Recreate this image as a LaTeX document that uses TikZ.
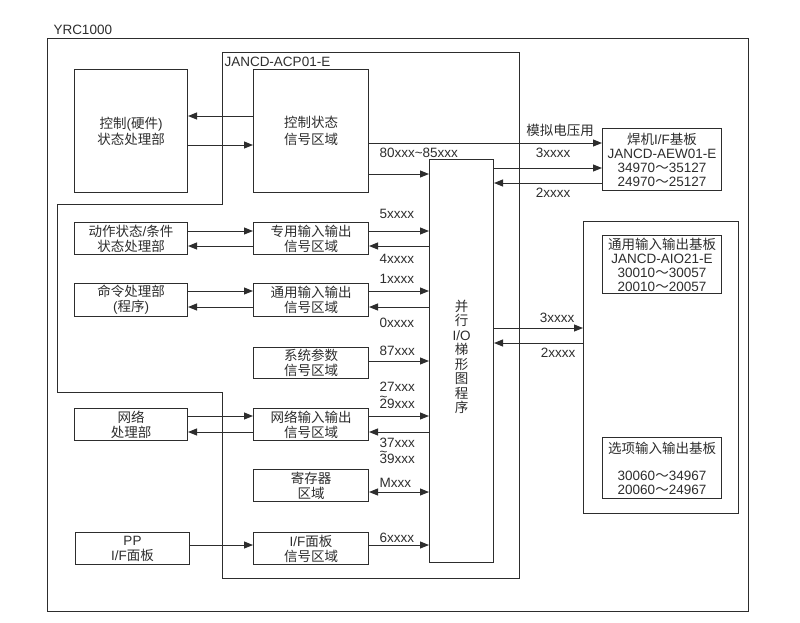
\documentclass[tikz,border=0pt]{standalone}
\usepackage{fontspec}
\setmainfont{Liberation Sans}
\newfontfamily\cjk{Noto Sans CJK SC}
\usetikzlibrary{arrows.meta}
\newcommand\zh[1]{{\cjk #1}}
\newcommand\tl{\rlap{\raisebox{0.5em}{\textasciitilde}}}
\definecolor{fg}{RGB}{45,45,45}
\begin{document}
\begin{tikzpicture}[x=1pt,y=-1pt,
  font=\fontsize{13.5}{15}\selectfont, line width=1pt, color=fg,
  blk/.style={draw, inner sep=0pt, align=center, anchor=north west},
  arr/.style={-{Triangle[length=9pt,width=7pt]}},
  darr/.style={{Triangle[length=9pt,width=7pt]}-{Triangle[length=9pt,width=7pt]}},
  lbl/.style={inner sep=0pt, anchor=west},
  clbl/.style={inner sep=0pt}]
\useasboundingbox (0,0) rectangle (800,622);
% outer frames
\draw (47,38) rectangle (748,611);
\node[lbl] (tyrc) at (53,30) {YRC1000};
\draw (222,52) -- (519,52) -- (519,578) -- (222,578) -- (222,392) -- (57,392) -- (57,204) -- (222,204) -- cycle;
\node[lbl] (tjan) at (224,62) {JANCD-ACP01-E};
% blocks
\node[blk, minimum width=113pt, minimum height=123pt, font=\fontsize{13.5}{16}\selectfont] (hw) at (74,69) {\zh{控制}(\zh{硬件})\\\zh{状态处理部}};
\node[blk, minimum width=115pt, minimum height=123pt, font=\fontsize{13.5}{17}\selectfont] (ctl) at (253,69) {\zh{控制状态}\\\zh{信号区域}};
\node[blk, minimum width=113pt, minimum height=32pt] (act) at (74,222) {\zh{动作状态}/\zh{条件}\\\zh{状态处理部}};
\node[blk, minimum width=115pt, minimum height=32pt] (spec) at (253,222) {\zh{专用输入输出}\\\zh{信号区域}};
\node[blk, minimum width=113pt, minimum height=33pt] (cmd) at (74,283) {\zh{命令处理部}\\(\zh{程序})};
\node[blk, minimum width=115pt, minimum height=33pt] (gio) at (253,283) {\zh{通用输入输出}\\\zh{信号区域}};
\node[blk, minimum width=115pt, minimum height=31pt] (sys) at (253,347) {\zh{系统参数}\\\zh{信号区域}};
\node[blk, minimum width=113pt, minimum height=32pt] (net) at (74,408) {\zh{网络}\\\zh{处理部}};
\node[blk, minimum width=115pt, minimum height=32pt] (nio) at (253,408) {\zh{网络输入输出}\\\zh{信号区域}};
\node[blk, minimum width=115pt, minimum height=32pt] (reg) at (253,469) {\zh{寄存器}\\\zh{区域}};
\node[blk, minimum width=114pt, minimum height=32pt] (pp) at (75,532) {PP\\I/F\zh{面板}};
\node[blk, minimum width=115pt, minimum height=32pt] (ifp) at (253,532) {I/F\zh{面板}\\\zh{信号区域}};
\node[blk, minimum width=64pt, minimum height=403pt, font=\fontsize{13.5}{14.5}\selectfont] (lad) at (429,159) {\zh{并}\\\zh{行}\\I/O\\\zh{梯}\\\zh{形}\\\zh{图}\\\zh{程}\\\zh{序}\\[-5pt]\mbox{}};
\node[blk, minimum width=119pt, minimum height=62pt, font=\fontsize{13.5}{14}\selectfont] (weld) at (602,128) {\zh{焊机}I/F\zh{基板}\\JANCD-AEW01-E\\34970\zh{～}35127\\24970\zh{～}25127};
\node[blk, minimum width=155pt, minimum height=292pt] (gen) at (583,221) {};
\node[blk, minimum width=119pt, minimum height=58pt, font=\fontsize{13.5}{14}\selectfont] (aio) at (602,235) {\zh{通用输入输出基板}\\JANCD-AIO21-E\\30010\zh{～}30057\\20010\zh{～}20057};
\node[blk, minimum width=119pt, minimum height=61pt, font=\fontsize{13.5}{13.7}\selectfont] (opt) at (602,437) {\zh{选项输入输出基板}\\\mbox{}\\30060\zh{～}34967\\20060\zh{～}24967};
% connectors
\draw[arr] (ctl.west |- 0,116) -- (hw.east |- 0,116);
\draw[arr] (hw.east |- 0,145) -- (ctl.west |- 0,145);
\draw[arr] (ctl.east |- 0,143) -- (weld.west |- 0,143);
\draw[arr] (ctl.east |- 0,174) -- (lad.west |- 0,174);
\draw[arr] (lad.east |- 0,168) -- (weld.west |- 0,168);
\draw[arr] (weld.west |- 0,183) -- (lad.east |- 0,183);
\draw[arr] (lad.east |- 0,328) -- (gen.west |- 0,328);
\draw[arr] (gen.west |- 0,343) -- (lad.east |- 0,343);
\draw[arr] (act.east |- 0,231) -- (spec.west |- 0,231);
\draw[arr] (spec.west |- 0,246) -- (act.east |- 0,246);
\draw[arr] (spec.east |- 0,231) -- (lad.west |- 0,231);
\draw[arr] (lad.west |- 0,246) -- (spec.east |- 0,246);
\draw[arr] (cmd.east |- 0,291) -- (gio.west |- 0,291);
\draw[arr] (gio.west |- 0,307) -- (cmd.east |- 0,307);
\draw[arr] (gio.east |- 0,291) -- (lad.west |- 0,291);
\draw[arr] (lad.west |- 0,307) -- (gio.east |- 0,307);
\draw[arr] (sys.east |- 0,361) -- (lad.west |- 0,361);
\draw[arr] (net.east |- 0,416) -- (nio.west |- 0,416);
\draw[arr] (nio.west |- 0,432) -- (net.east |- 0,432);
\draw[arr] (nio.east |- 0,416) -- (lad.west |- 0,416);
\draw[arr] (lad.west |- 0,432) -- (nio.east |- 0,432);
\draw[darr] (reg.east |- 0,492) -- (lad.west |- 0,492);
\draw[arr] (pp.east |- 0,545) -- (ifp.west |- 0,545);
\draw[arr] (ifp.east |- 0,545) -- (lad.west |- 0,545);
% labels
\node[lbl] (l80) at (379,153) {80xxx\textasciitilde85xxx};
\node[lbl] (l5) at (379,214) {5xxxx};
\node[lbl] (l4) at (379,259) {4xxxx};
\node[lbl] (l1) at (379,279) {1xxxx};
\node[lbl] (l0) at (379,323) {0xxxx};
\node[lbl] (l87) at (379,351) {87xxx};
\node[lbl, align=left, font=\fontsize{13.5}{17}\selectfont] (l27) at (379,395) {27xxx\\\tl 29xxx};
\node[lbl, align=left, font=\fontsize{13.5}{16}\selectfont] (l37) at (379,451) {37xxx\\\tl 39xxx};
\node[lbl] (lM) at (379,483) {Mxxx};
\node[lbl] (l6) at (379,538) {6xxxx};
\node[clbl] (lan) at (560,130) {\zh{模拟电压用}};
\node[clbl] (l3a) at (553,153) {3xxxx};
\node[clbl] (l2a) at (553,193) {2xxxx};
\node[clbl] (l3b) at (557,318) {3xxxx};
\node[clbl] (l2b) at (558,353) {2xxxx};
\end{tikzpicture}
\end{document}
